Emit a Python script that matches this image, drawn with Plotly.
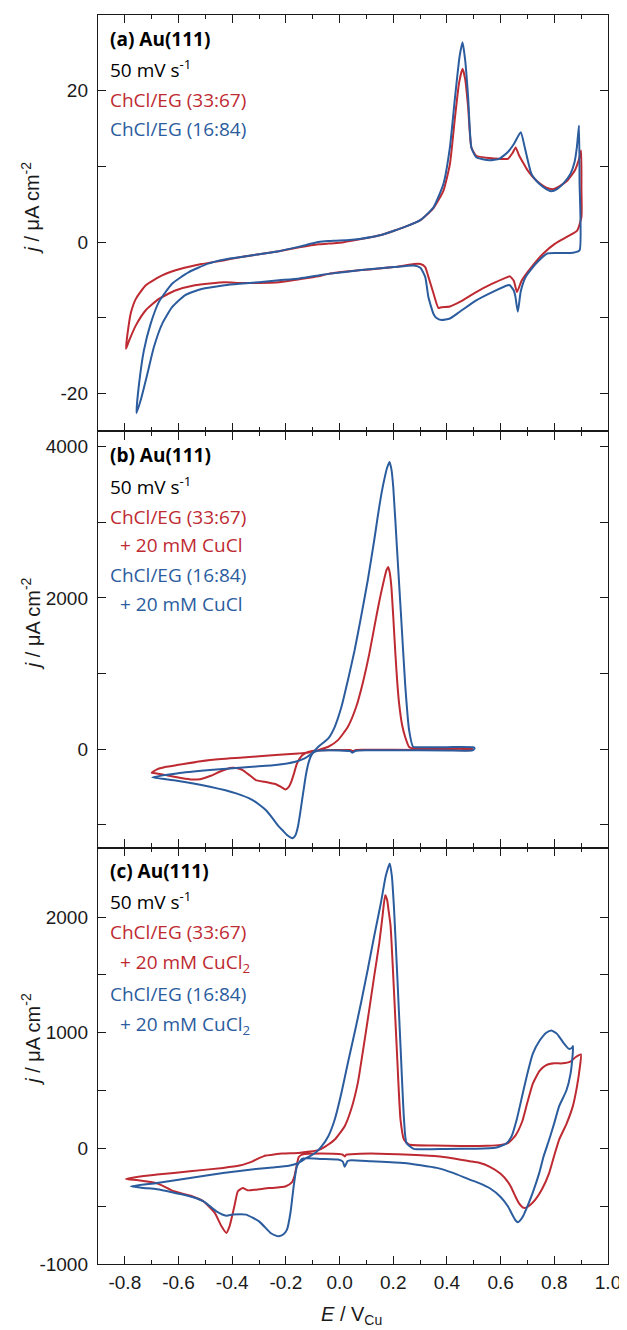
import plotly.graph_objects as go
from plotly.subplots import make_subplots

RED = '#BE2A32'
BLUE = '#2B5C9E'

# ---------------- data: (E / V_Cu, j / uA cm^-2), sweep order ----------------
A_RED = [(-0.796,-14.1),(-0.79,-12.1),(-0.778,-9.4),(-0.759,-7.5),(-0.722,-5.7),(-0.661,-4.4),
         (-0.588,-3.5),(-0.514,-2.9),(-0.428,-2.4),(-0.373,-2.0),(-0.3,-1.6),(-0.226,-1.2),
         (-0.15,-0.7),(-0.079,-0.3),(-0.042,-0.2),(0.0,-0.1),(0.08,0.4),(0.15,0.9),(0.203,1.5),
         (0.25,2.1),(0.301,2.9),(0.35,4.5),(0.387,6.8),(0.411,10.3),(0.43,16.5),(0.445,21.0),
         (0.458,22.9),(0.468,21.5),(0.479,17.8),(0.491,12.5),(0.509,11.4),(0.558,11.1),
         (0.595,11.0),(0.627,11.0),(0.645,11.8),(0.656,12.5),(0.668,11.5),(0.685,10.4),
         (0.7,9.5),(0.72,8.6),(0.744,7.8),(0.77,7.2),(0.796,7.0),(0.82,7.4),(0.848,8.1),
         (0.877,9.5),(0.894,11.2),(0.9,12.1),
         (0.901,7.0),(0.901,3.3),(0.885,1.5),(0.847,0.7),(0.803,-0.2),(0.759,-1.5),(0.715,-3.3),
         (0.678,-5.1),(0.661,-6.6),(0.649,-5.1),(0.634,-4.5),(0.627,-4.6),(0.569,-5.5),
         (0.509,-6.6),(0.448,-7.9),(0.411,-8.5),(0.38,-8.6),(0.368,-8.7),(0.35,-6.8),
         (0.331,-4.6),(0.319,-3.3),(0.301,-2.9),(0.277,-2.9),(0.203,-3.3),(0.08,-3.7),
         (-0.042,-4.2),(-0.079,-4.5),(-0.15,-4.9),(-0.226,-5.3),(-0.3,-5.4),(-0.373,-5.4),
         (-0.428,-5.3),(-0.539,-5.7),(-0.612,-6.4),(-0.673,-7.5),(-0.722,-9.0),(-0.759,-11.0),
         (-0.784,-13.0),(-0.796,-14.1)]

A_BLUE = [(-0.757,-22.6),(-0.747,-18.7),(-0.729,-14.3),(-0.704,-10.8),(-0.673,-7.9),(-0.624,-5.5),
          (-0.563,-4.0),(-0.49,-2.85),(-0.428,-2.3),(-0.373,-2.0),(-0.3,-1.6),(-0.226,-1.2),
          (-0.15,-0.6),(-0.079,0.0),(-0.042,0.13),(0.0,0.2),(0.08,0.45),(0.15,0.9),(0.203,1.5),
          (0.25,2.1),(0.301,2.9),(0.35,4.6),(0.387,7.7),(0.411,12.5),(0.43,19.1),(0.447,24.5),
          (0.458,26.4),(0.468,24.0),(0.479,19.1),(0.491,12.5),(0.509,11.2),(0.558,10.8),
          (0.595,11.0),(0.627,11.9),(0.65,13.0),(0.675,14.5),(0.69,12.5),(0.715,9.0),
          (0.744,7.7),(0.77,7.0),(0.789,6.7),(0.81,7.0),(0.835,7.8),(0.86,9.0),(0.875,10.5),
          (0.884,12.5),(0.892,15.4),
          (0.894,8.0),(0.894,-1.1),(0.87,-1.4),(0.833,-1.45),(0.774,-1.5),(0.73,-2.9),
          (0.693,-4.6),(0.675,-6.5),(0.664,-9.2),(0.655,-7.2),(0.649,-6.4),(0.634,-5.7),
          (0.627,-5.7),(0.569,-6.6),(0.509,-7.7),(0.448,-9.2),(0.411,-10.1),(0.38,-10.3),
          (0.36,-10.0),(0.35,-9.5),(0.331,-7.3),(0.319,-4.6),(0.301,-3.4),(0.277,-3.1),
          (0.203,-3.3),(0.08,-3.7),(-0.042,-4.2),(-0.079,-4.4),(-0.15,-4.8),(-0.226,-5.05),
          (-0.3,-5.3),(-0.373,-5.5),(-0.428,-5.7),(-0.514,-6.2),(-0.575,-7.0),(-0.624,-8.6),
          (-0.661,-10.8),(-0.692,-13.9),(-0.716,-17.4),(-0.741,-20.9),(-0.757,-22.6)]

B_RED = [(-0.70,-310),(-0.68,-265),(-0.65,-235),(-0.606,-209),(-0.483,-143),(-0.361,-110),
         (-0.238,-77),(-0.153,-55),(-0.12,-45),(-0.091,-25),(-0.07,0),(-0.042,33),(-0.006,121),
         (0.031,297),(0.062,561),(0.086,870),(0.111,1266),(0.135,1720),(0.15,1990),(0.165,2230),
         (0.175,2370),(0.181,2409),(0.187,2330),(0.193,2145),(0.2,1750),(0.208,1255),(0.215,880),
         (0.222,595),(0.233,320),(0.245,155),(0.259,30),(0.27,15),(0.35,15),(0.45,15),(0.49,12),
         (0.495,0),(0.49,-10),(0.4,-10),(0.2,-8),(0.1,-8),(0.06,-10),(0.05,-25),(0.04,-10),
         (0.0,-10),(-0.09,-15),(-0.12,-40),(-0.138,-77),(-0.15,-130),(-0.16,-200),(-0.17,-320),
         (-0.18,-430),(-0.19,-500),(-0.202,-530),(-0.215,-505),(-0.235,-465),(-0.251,-451),
         (-0.28,-430),(-0.312,-407),(-0.336,-341),(-0.361,-275),(-0.38,-250),(-0.398,-244),
         (-0.42,-260),(-0.447,-297),(-0.48,-350),(-0.52,-395),(-0.55,-400),(-0.59,-380),
         (-0.63,-354),(-0.68,-319),(-0.70,-310)]

B_BLUE = [(-0.698,-371),(-0.606,-319),(-0.483,-275),(-0.361,-240),(-0.238,-209),(-0.165,-165),
          (-0.13,-120),(-0.105,-60),(-0.079,33),(-0.042,143),(-0.018,297),(0.007,561),(0.031,913),
          (0.056,1309),(0.08,1749),(0.105,2233),(0.129,2761),(0.142,3069),(0.156,3377),
          (0.17,3620),(0.178,3729),(0.186,3795),(0.193,3700),(0.2,3465),(0.215,2586),(0.23,1705),
          (0.245,825),(0.259,253),(0.274,33),(0.3,28),(0.4,28),(0.5,25),
          (0.503,10),(0.495,-15),(0.4,-15),(0.2,-12),(0.1,-12),(0.06,-20),(0.048,-46),(0.04,-25),
          (0.0,-15),(-0.08,-20),(-0.095,-40),(-0.105,-80),(-0.115,-170),(-0.125,-330),
          (-0.135,-560),(-0.145,-800),(-0.155,-1020),(-0.165,-1140),(-0.175,-1176),
          (-0.185,-1160),(-0.196,-1133),(-0.21,-1080),(-0.226,-1023),(-0.25,-910),(-0.275,-803),
          (-0.3,-730),(-0.324,-671),(-0.385,-583),(-0.483,-495),(-0.606,-415),(-0.698,-371)]

C_RED = [(-0.796,-264),(-0.75,-245),(-0.68,-227),(-0.557,-198),(-0.434,-169),(-0.373,-149),
         (-0.345,-130),(-0.324,-112),(-0.3,-85),(-0.275,-62),(-0.25,-55),(-0.214,-45),
         (-0.153,-40),(-0.11,-28),(-0.079,-15),(-0.055,13),(-0.018,76),(0.019,192),(0.043,336),
         (0.068,566),(0.086,826),(0.105,1114),(0.129,1489),(0.148,1778),(0.16,2009),(0.17,2188),
         (0.177,2150),(0.183,2050),(0.19,1922),(0.203,1345),(0.215,768),(0.227,249),(0.24,76),
         (0.258,33),(0.35,25),(0.45,20),(0.55,22),(0.6,30),(0.63,50),(0.655,110),(0.68,230),
         (0.7,400),(0.72,560),(0.745,670),(0.77,720),(0.8,735),(0.83,735),(0.86,750),(0.88,790),
         (0.899,812),
         (0.895,700),(0.884,530),(0.869,365),(0.845,210),(0.818,76),(0.8,-60),(0.781,-212),
         (0.755,-350),(0.73,-442),(0.71,-490),(0.697,-510),(0.686,-515),(0.67,-480),(0.656,-420),
         (0.64,-340),(0.627,-290),(0.6,-220),(0.56,-160),(0.52,-125),(0.485,-111),(0.42,-85),
         (0.362,-68),(0.24,-54),(0.117,-45),(0.043,-50),(0.025,-55),(0.019,-70),(0.012,-55),
         (-0.067,-45),(-0.14,-54),(-0.152,-75),(-0.16,-150),(-0.168,-240),(-0.178,-295),
         (-0.2,-328),(-0.25,-342),(-0.263,-343),(-0.312,-357),(-0.343,-363),(-0.361,-343),
         (-0.379,-371),(-0.392,-501),(-0.41,-674),(-0.422,-731),(-0.44,-674),(-0.465,-558),
         (-0.508,-457),(-0.557,-408),(-0.618,-371),(-0.68,-302),(-0.75,-275),(-0.796,-264)]

C_BLUE = [(-0.778,-328),(-0.68,-299),(-0.557,-256),(-0.434,-213),(-0.373,-195),(-0.312,-178),
          (-0.25,-165),(-0.189,-150),(-0.153,-125),(-0.128,-90),(-0.091,-40),(-0.067,18),
          (-0.042,105),(-0.018,249),(0.007,480),(0.031,740),(0.056,999),(0.08,1259),(0.105,1547),
          (0.129,1836),(0.154,2124),(0.172,2355),(0.187,2464),(0.195,2350),(0.203,2066),
          (0.215,1489),(0.227,884),(0.24,249),(0.249,47),(0.276,-4),(0.4,-5),(0.5,-3),(0.58,5),
          (0.62,40),(0.64,100),(0.66,250),(0.68,450),(0.7,650),(0.72,820),(0.745,930),(0.77,1000),
          (0.789,1020),(0.81,990),(0.835,910),(0.855,860),(0.866,870),(0.87,884),
          (0.868,800),(0.86,640),(0.845,500),(0.818,365),(0.8,220),(0.781,76),(0.76,-70),
          (0.744,-212),(0.72,-380),(0.7,-500),(0.685,-580),(0.672,-625),(0.664,-639),(0.655,-620),
          (0.645,-580),(0.627,-501),(0.6,-420),(0.56,-345),(0.52,-300),(0.485,-270),(0.42,-210),
          (0.362,-169),(0.24,-126),(0.117,-111),(0.043,-103),(0.03,-110),(0.019,-160),
          (0.012,-115),(-0.006,-97),(-0.067,-91),(-0.12,-85),(-0.14,-91),(-0.159,-155),
          (-0.171,-328),(-0.183,-557),(-0.196,-703),(-0.21,-745),(-0.226,-760),(-0.24,-752),
          (-0.257,-732),(-0.3,-631),(-0.349,-573),(-0.398,-573),(-0.422,-582),(-0.459,-544),
          (-0.508,-457),(-0.569,-408),(-0.68,-354),(-0.729,-342),(-0.778,-328)]

X_TICKVALS = [-0.8, -0.6, -0.4, -0.2, 0.0, 0.2, 0.4, 0.6, 0.8, 1.0]
X_TICKTEXT = ['-0.8', '-0.6', '-0.4', '-0.2', '0.0', '0.2', '0.4', '0.6', '0.8', '1.0']
X_MINOR = [-0.9, -0.7, -0.5, -0.3, -0.1, 0.1, 0.3, 0.5, 0.7, 0.9]

Y_RANGES = [[-25, 30], [-1300, 4200], [-1000, 2600]]
Y_TICKVALS = [[-20, 0, 20], [0, 2000, 4000], [-1000, 0, 1000, 2000]]
Y_TICKTEXT = [['-20', '0', '20'], ['0', '2000', '4000'], ['-1000', '0', '1000', '2000']]
Y_MINOR = [[-10, 10], [-1000, 1000, 3000], [-500, 500, 1500]]

PANEL_TEXT = [
    [('<b>(a) Au(111)</b>', 'black', 0), ('50 mV s<sup>-1</sup>', 'black', 0),
     ('ChCl/EG (33:67)', RED, 0), ('ChCl/EG (16:84)', BLUE, 0)],
    [('<b>(b) Au(111)</b>', 'black', 0), ('50 mV s<sup>-1</sup>', 'black', 0),
     ('ChCl/EG (33:67)', RED, 0), ('+ 20 mM CuCl', RED, 1),
     ('ChCl/EG (16:84)', BLUE, 0), ('+ 20 mM CuCl', BLUE, 1)],
    [('<b>(c) Au(111)</b>', 'black', 0), ('50 mV s<sup>-1</sup>', 'black', 0),
     ('ChCl/EG (33:67)', RED, 0), ('+ 20 mM CuCl<sub>2</sub>', RED, 1),
     ('ChCl/EG (16:84)', BLUE, 0), ('+ 20 mM CuCl<sub>2</sub>', BLUE, 1)],
]
# vertical pixel centres (screen) of each text line
PANEL_TEXT_Y = [[38, 68, 99, 128],
                [454, 485, 516, 544, 574, 603],
                [871, 901, 932, 963, 994, 1025]]
YTITLE_Y = [207, 623, 1039]

# ---------------- figure ----------------
OFF = 8                       # default page (body) margin in the browser
W, H = 627 - OFF, 1330 - OFF  # figure size so that it ends at the window edge
# plot area in screen pixels
PL, PR, PT, PB = 98, 613, 14, 1264
ML, MT = PL - OFF, PT - OFF
MR, MB = W - (PR - OFF), H - (PB - OFF)
PW, PH = PR - PL, PB - PT


def px_x(px):
    return (px - PL) / PW


def px_y(py):
    return 1 - (py - PT) / PH


fig = make_subplots(rows=3, cols=1, shared_xaxes=True, vertical_spacing=0)

for row, (red, blue) in enumerate([(A_RED, A_BLUE), (B_RED, B_BLUE), (C_RED, C_BLUE)], start=1):
    for curve, col in ((red, RED), (blue, BLUE)):
        fig.add_trace(go.Scatter(
            x=[p[0] for p in curve], y=[p[1] for p in curve], mode='lines',
            line=dict(color=col, width=2, shape='spline', smoothing=0.5),
            showlegend=False, hoverinfo='skip'), row=row, col=1)

LINE = '#1a1a1a'
TICKFONT = dict(family='Liberation Sans, Arial, sans-serif', size=19, color='#1a1a1a')
for row in (1, 2, 3):
    fig.update_xaxes(range=[-0.9, 1.0], tickmode='array', tickvals=X_TICKVALS, ticktext=X_TICKTEXT,
                     showline=True, linecolor=LINE, linewidth=1.4, mirror='ticks',
                     ticks='inside', ticklen=8, tickwidth=1.4, tickcolor=LINE,
                     minor=dict(tickmode='array', tickvals=X_MINOR, ticks='inside', ticklen=4,
                                tickwidth=1.4, tickcolor=LINE),
                     showgrid=False, zeroline=False, tickfont=TICKFONT,
                     showticklabels=(row == 3), ticklabelstandoff=1, row=row, col=1)
    fig.update_yaxes(range=Y_RANGES[row - 1], tickmode='array', tickvals=Y_TICKVALS[row - 1],
                     ticktext=Y_TICKTEXT[row - 1],
                     showline=True, linecolor=LINE, linewidth=1.4, mirror='ticks',
                     ticks='inside', ticklen=8, tickwidth=1.4, tickcolor=LINE,
                     minor=dict(tickmode='array', tickvals=Y_MINOR[row - 1], ticks='inside',
                                ticklen=8, tickwidth=1.4, tickcolor=LINE),
                     showgrid=False, zeroline=False, tickfont=TICKFONT,
                     ticklabelstandoff=5, row=row, col=1)

ann = []
TXTFONT = 'Open Sans, Noto Sans, sans-serif'
for lines, ys in zip(PANEL_TEXT, PANEL_TEXT_Y):
    for (txt, col, indent), py in zip(lines, ys):
        ann.append(dict(text=txt, xref='paper', yref='paper', x=px_x(120 if indent else 110),
                        y=px_y(py), xanchor='left', yanchor='middle', showarrow=False,
                        borderpad=0, borderwidth=0,
                        font=dict(family=TXTFONT, size=19, color=col)))
for py in YTITLE_Y:
    ann.append(dict(text='<i>j</i> / μA cm<sup>-2</sup>', xref='paper', yref='paper',
                    x=px_x(30), y=px_y(py), xanchor='center', yanchor='middle', textangle=-90,
                    showarrow=False, borderpad=0, borderwidth=0,
                    font=dict(family='Liberation Sans, Arial, sans-serif', size=20, color='#1a1a1a')))
ann.append(dict(text='<i>E</i> / V<sub>Cu</sub>', xref='paper', yref='paper', x=px_x(354),
                y=px_y(1316), xanchor='center', yanchor='middle', showarrow=False,
                borderpad=0, borderwidth=0,
                font=dict(family='Liberation Sans, Arial, sans-serif', size=20, color='#1a1a1a')))

fig.update_layout(width=W, height=H, margin=dict(l=ML, r=MR, t=MT, b=MB, pad=0),
                  paper_bgcolor='white', plot_bgcolor='white', annotations=ann,
                  showlegend=False)

fig.write_html('out.html')
